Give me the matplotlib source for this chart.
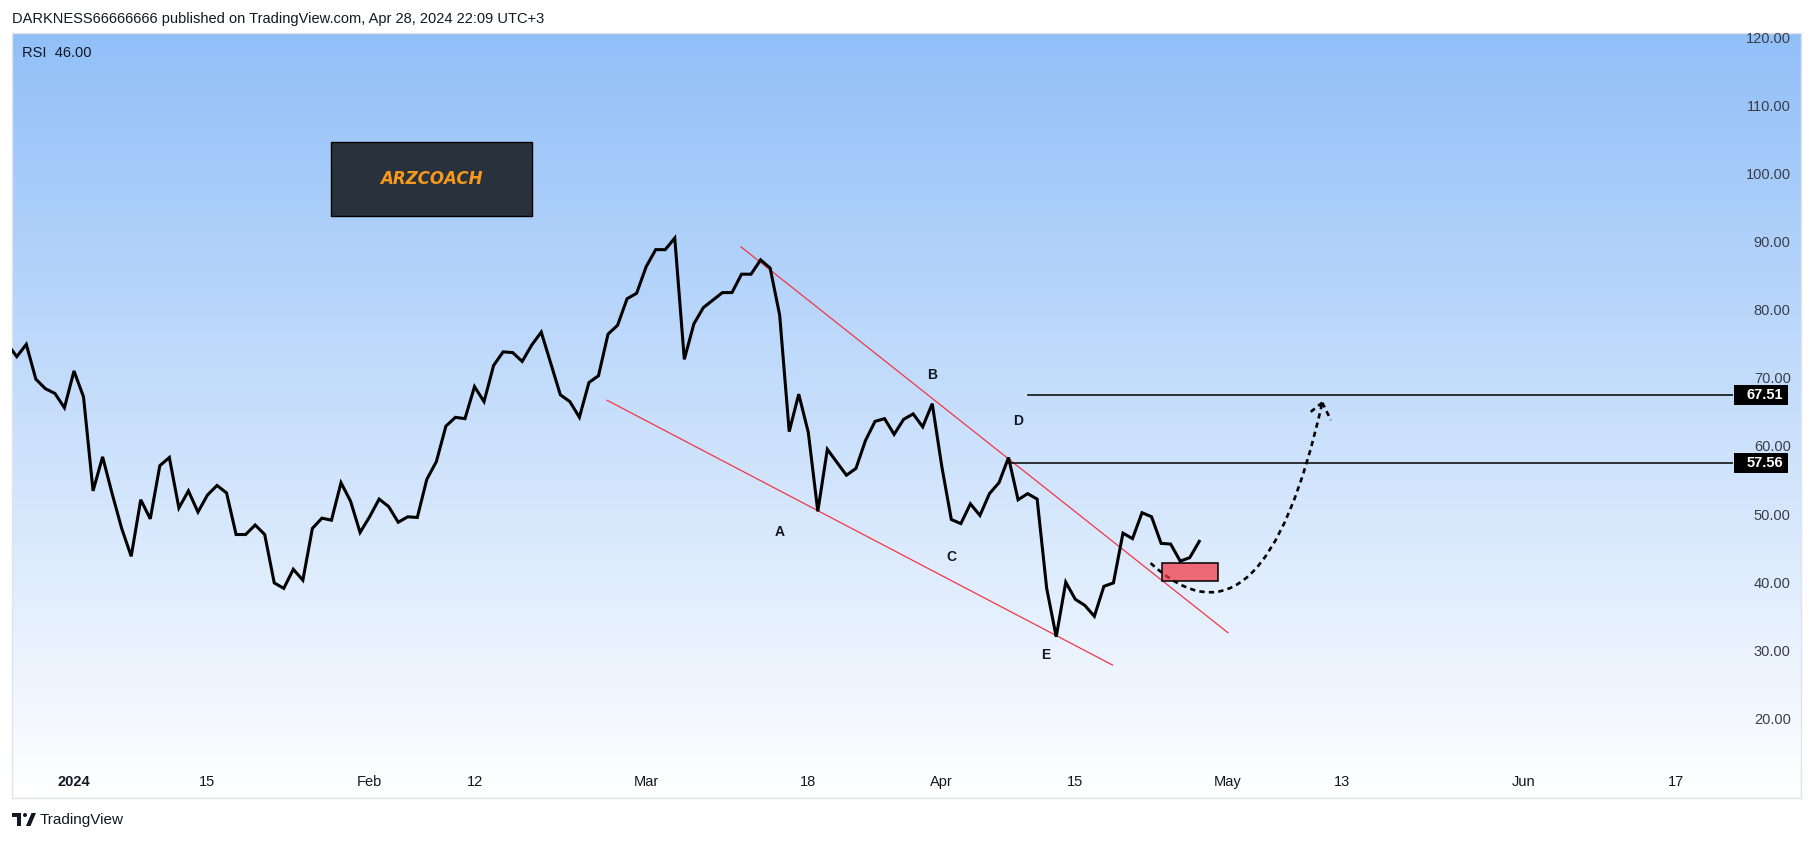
import matplotlib
matplotlib.use("Agg")
import matplotlib.pyplot as plt
import matplotlib.patches as mpatches
import matplotlib.transforms as mtransforms
from matplotlib.path import Path
import numpy as np
import pandas as pd

plt.rcParams.update({"font.family": ["Liberation Sans", "DejaVu Sans"]})

W, H = 1814, 842
BASE = pd.Timestamp("2024-01-01")

# daily RSI values, 2023-12-25 .. 2024-04-28
START = "2023-12-25"
RSI = [
    75.0, 73.1, 74.9, 69.8, 68.4, 67.7, 65.6, 71.0, 67.2, 53.4,
    58.4, 53.0, 47.9, 43.8, 52.1, 49.3, 57.1, 58.3, 50.9, 53.4,
    50.3, 52.8, 54.2, 53.1, 47.0, 47.0, 48.4, 47.0, 39.9, 39.1,
    41.9, 40.3, 47.9, 49.4, 49.1, 54.6, 51.9, 47.3, 49.6, 52.2,
    51.1, 48.8, 49.6, 49.5, 55.1, 57.7, 62.9, 64.2, 64.0, 68.7,
    66.5, 71.8, 73.8, 73.7, 72.4, 74.8, 76.7, 72.1, 67.5, 66.5,
    64.2, 69.3, 70.3, 76.4, 77.7, 81.6, 82.4, 86.3, 88.8, 88.8,
    90.5, 72.7, 77.9, 80.3, 81.4, 82.5, 82.5, 85.2, 85.2, 87.3,
    86.1, 79.2, 62.1, 67.6, 62.0, 50.4, 59.5, 57.6, 55.7, 56.7,
    60.8, 63.6, 64.0, 61.7, 63.9, 64.7, 62.8, 66.2, 57.0, 49.2,
    48.6, 51.5, 49.8, 53.0, 54.6, 58.3, 52.1, 53.0, 52.2, 39.1,
    32.0, 40.0, 37.5, 36.6, 35.0, 39.4, 39.9, 47.2, 46.4, 50.2,
    49.6, 45.7, 45.6, 43.1, 43.6, 46.0,
]

TICK_DATES = ["2024-01-01", "2024-01-15", "2024-02-01", "2024-02-12",
              "2024-03-01", "2024-03-18", "2024-04-01", "2024-04-15",
              "2024-05-01", "2024-05-13", "2024-06-01", "2024-06-17"]
TICK_LABELS = ["2024", "15", "Feb", "12", "Mar", "18", "Apr", "15",
               "May", "13", "Jun", "17"]
PRICE_TICKS = [20, 30, 40, 50, 60, 70, 80, 90, 100, 110, 120]

# drawings (x in days from 2024-01-01, y in RSI units)
LEVELS = [67.51, 57.56]
LEVEL_START = [100.0, 98.0]
TREND_UPPER_X, TREND_UPPER_Y = [69.95, 121.0], [89.2, 32.6]
TREND_LOWER_X, TREND_LOWER_Y = [55.9, 108.9], [66.7, 27.85]
WAVE_LABELS = ["A", "B", "C", "D", "E"]
WAVE_X = [74.0, 90.0, 92.0, 99.0, 101.9]
WAVE_Y = [47.4, 70.4, 43.7, 63.65, 29.3]
ZONE = (114.06, 40.18, 120.0, 42.77)           # x0, y0, x1, y1
CURVE = [(112.9, 42.8), (124.7, 27.6), (130.9, 66.35)]
ARROW_WINGS = [(129.6, 64.9), (131.8, 63.8)]
LOGO_BOX = (27.0, 93.78, 48.0, 104.55)

XLIM = (-6.5, 173.97)
YLIM = (12.74, 120.59)


def fig_rect(x0, y0, x1, y1):
    return [x0 / W, 1 - y1 / H, (x1 - x0) / W, (y1 - y0) / H]


fig = plt.figure(figsize=(W / 100, H / 100), dpi=100)
fig.patch.set_facecolor("white")

# gradient background of the chart pane
bg = fig.add_axes(fig_rect(11.5, 33, 1801, 797.5))
top = np.array([145, 191, 248]) / 255
bot = np.array([255, 255, 255]) / 255
g = np.linspace(0, 1, 256)[:, None, None]
bg.imshow(top * (1 - g) + bot * g, aspect="auto", extent=[0, 1, 0, 1])
bg.set_xticks([]); bg.set_yticks([])
for s in bg.spines.values():
    s.set_color("#e0e3eb"); s.set_linewidth(1)

ax = fig.add_axes(fig_rect(12, 33, 1733, 768))
ax.set_facecolor("none")
for s in ax.spines.values():
    s.set_visible(False)
ax.set_xlim(*XLIM); ax.set_ylim(*YLIM)

days = (pd.date_range(START, periods=len(RSI)) - BASE).days.values
ax.plot(days, RSI, color="black", lw=2.2, zorder=5, solid_joinstyle="miter")

# trendlines
ax.plot(TREND_UPPER_X, TREND_UPPER_Y, color="#f23645", lw=0.9, zorder=3)
ax.plot(TREND_LOWER_X, TREND_LOWER_Y, color="#f23645", lw=0.9, zorder=3)

# horizontal levels + price-scale tags
blend = mtransforms.blended_transform_factory(fig.transFigure, ax.transData)
unit_px = 735 / (YLIM[1] - YLIM[0])
for lvl, x0 in zip(LEVELS, LEVEL_START):
    ax.plot([x0, XLIM[1]], [lvl, lvl], color="black", lw=1.1, zorder=4)
    h = 20 / unit_px
    ax.add_patch(mpatches.Rectangle((1734 / W, lvl - h / 2), 54 / W, h,
                                    transform=blend, fc="black", ec="none",
                                    clip_on=False, zorder=6))
    ax.text(1783 / W, lvl, f"{lvl:.2f}", transform=blend, ha="right",
            va="center", color="white", fontsize=10.5, fontweight="bold",
            clip_on=False, zorder=7)

for s, x, y in zip(WAVE_LABELS, WAVE_X, WAVE_Y):
    ax.text(x, y, s, ha="center", va="center", fontsize=10,
            fontweight="bold", color="#131722", zorder=6)

# expected path
path = Path(CURVE, [Path.MOVETO, Path.CURVE3, Path.CURVE3])
ax.add_patch(mpatches.PathPatch(path, fill=False, ec="black", lw=1.9,
                                ls=(0, (2, 1.6)), zorder=4))
for wx, wy in ARROW_WINGS:
    ax.plot([CURVE[-1][0], wx], [CURVE[-1][1], wy], color="black", lw=1.9,
            ls=(0, (2, 1.6)), zorder=4)

ax.add_patch(mpatches.Rectangle((ZONE[0], ZONE[1]), ZONE[2] - ZONE[0],
                                ZONE[3] - ZONE[1], fc=(0.949, 0.212, 0.271, 0.72),
                                ec="black", lw=1.1, zorder=5))

ax.add_patch(mpatches.Rectangle((LOGO_BOX[0], LOGO_BOX[1]),
                                LOGO_BOX[2] - LOGO_BOX[0],
                                LOGO_BOX[3] - LOGO_BOX[1],
                                fc="#29313d", ec="black", lw=1.0, zorder=6))
ax.text((LOGO_BOX[0] + LOGO_BOX[2]) / 2, (LOGO_BOX[1] + LOGO_BOX[3]) / 2,
        "ARZCOACH", ha="center", va="center", color="#f79a1c",
        fontsize=12, style="italic", fontweight="bold", family="DejaVu Sans",
        zorder=7)

# axes ticks
ax.yaxis.tick_right()
ax.set_yticks(PRICE_TICKS, labels=[f"{v:.2f}" for v in PRICE_TICKS], ha="right")
ax.tick_params(axis="y", length=0, pad=41.5, labelsize=10.5, labelcolor="#3a3d47")
for lbl in ax.get_yticklabels():
    lbl.set_clip_path(bg.patch)
    lbl.set_clip_on(True)

tick_days = [(pd.Timestamp(d) - BASE).days for d in TICK_DATES]
ax.set_xticks(tick_days, labels=TICK_LABELS)
ax.tick_params(axis="x", length=0, pad=5, labelsize=10.5, labelcolor="#131722")
ax.get_xticklabels()[0].set_fontweight("bold")

# header / legend
fig.text(12 / W, 1 - 19 / H,
         "DARKNESS66666666 published on TradingView.com, Apr 28, 2024 22:09 UTC+3",
         fontsize=10.5, color="#131722", va="center")
fig.text(22 / W, 1 - 53 / H, "RSI  46.00", fontsize=10.5, color="#131722",
         va="center")

# footer logo
lg = fig.add_axes(fig_rect(10, 808, 40, 832))
lg.set_xlim(10, 40); lg.set_ylim(832, 808); lg.axis("off")
lg.add_patch(mpatches.Rectangle((12, 813), 9, 4, fc="#131722"))
lg.add_patch(mpatches.Rectangle((17, 813), 4, 13, fc="#131722"))
lg.add_patch(mpatches.Circle((25, 815), 2, fc="#131722"))
lg.add_patch(mpatches.Polygon([(26, 826), (30.5, 826), (36, 813), (31.5, 813)],
                              fc="#131722"))
fig.text(40 / W, 1 - 820 / H, "TradingView", fontsize=11, color="#131722",
         va="center")

fig.savefig("out.png", dpi=100)
